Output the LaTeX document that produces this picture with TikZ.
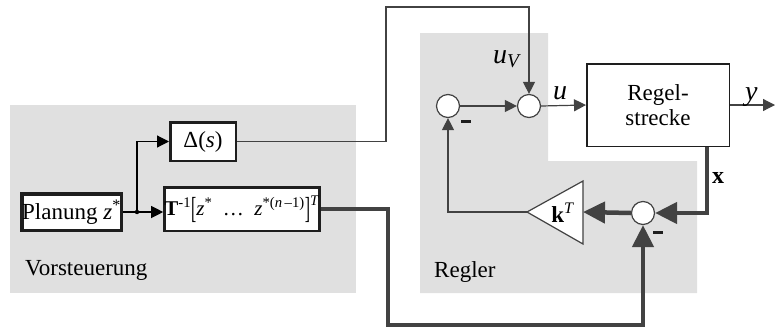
\documentclass[tikz,border=0pt]{standalone}
\usepackage{fontspec}
\usepackage{graphicx}
\setmainfont{Liberation Serif}
\usetikzlibrary{arrows.meta,calc}
\definecolor{bggray}{RGB}{224,224,224}
\definecolor{ln}{RGB}{66,66,66}
\definecolor{bd}{RGB}{30,30,30}
\begin{document}
\begin{tikzpicture}[x=1pt,y=-1pt,
  every node/.style={font=\fontsize{23}{25}\selectfont},
  blk/.style={draw=bd,fill=white,inner sep=0pt,anchor=center},
  sumnode/.style={circle,draw=ln,fill=white,line width=1.2pt,minimum size=23pt,inner sep=0pt},
  thinln/.style={draw=ln,line width=1.2pt},
  thinarr/.style={thinln,-{Triangle[length=12pt,width=12pt]}},
  blackarr/.style={draw=black,line width=1.2pt,-{Triangle[length=12pt,width=12pt]}},
  thickln/.style={draw=ln,line width=4.5pt},
  thickarr/.style={thickln,-{Triangle[length=22pt,width=21pt]}},
  lbl/.style={anchor=base west,inner sep=0pt},
  minus/.style={draw=bd,line width=3pt}]
\useasboundingbox (0,0) rectangle (775,327);
% background regions
\fill[bggray] (10,105) rectangle (356,293);
\fill[bggray] (420,33) -- (548,33) -- (548,161) -- (697,161) -- (697,293) -- (420,293) -- cycle;
% blocks
\node[blk,line width=3.5pt,minimum width=99.5pt,minimum height=36.5pt] (plan) at (71.5,212) {Planung \textit{z}\textsuperscript{*}};
\node[blk,line width=2.5pt,minimum width=139.5pt,minimum height=43.5pt] (tbox) at (242,209)
  {\fontsize{21}{21}\selectfont\textbf{T}\textsuperscript{-1}\raisebox{-3pt}{\scalebox{0.75}[1.45]{[}}\textit{z}\textsuperscript{*}\ \ \dots\ \ \textit{z}\textsuperscript{*(\textit{n}\,–1)}\raisebox{-3pt}{\scalebox{0.75}[1.45]{]}}\textsuperscript{\raisebox{2pt}{\textit{T}}}};
\node[blk,line width=2.5pt,minimum width=65.5pt,minimum height=38.5pt] (delta) at (203,141.5) {Δ(\textit{s})};
\node[blk,draw=bd,line width=1.5pt,minimum width=142.5pt,minimum height=82.5pt,align=center] (plant) at (658,105) {Regel-\\strecke};
\node[sumnode] (s1) at (448,106) {};
\node[sumnode] (s2) at (529,106) {};
\node[sumnode] (s3) at (643,213) {};
% gain triangle
\coordinate (kapex) at (527,212);
\coordinate (kright) at (583,212);
\draw[fill=white,draw=ln,line width=1.2pt] (kapex) -- (583,181) -- (583,244) -- cycle;
\node (k) at (563,213) {\textbf{k}\textsuperscript{\textit{T}}};
% helper coordinates
\coordinate (j) at (137,212);
\coordinate (tl) at (386,7);
\coordinate (bl) at (388,325);
\coordinate (xs) at (707,147);
\coordinate (yend) at (775,105);
% Vorsteuerung connections
\draw[draw=black,line width=1.2pt] (plan.east |- j) -- (j);
\draw[blackarr] (j) -- (tbox.west |- j);
\draw[blackarr] (j) |- (delta.west);
\fill[black] (j) circle (2.2pt);
\draw[thinln,-{Triangle[length=12pt,width=12pt]}] (delta.east) -| (tl) -| (s2.north);
% Regler connections
\draw[thinarr] (s1.east) -- (s2.west);
\draw[thinarr] (s2.east) -- (plant.west);
\draw[thinarr] (plant.east) -- (yend);
\draw[thickarr] (xs) |- (s3.east);
\draw[thickarr] (s3.west) -- (kright);
\draw[thinarr] (kapex) -| (s1.south);
\draw[thickarr] (tbox.east) -| (bl) -| (s3.south);
% minus signs
\draw[minus] (461,121) -- (471,121);
\draw[minus] (653,232) -- (663,232);
% labels
\node[lbl,font=\fontsize{28}{28}\selectfont] (uv) at (493,63) {\textit{u}\textsubscript{\textit{V}}};
\node[lbl,font=\fontsize{28}{28}\selectfont] (ul) at (553,99) {\textit{u}};
\node[lbl,font=\fontsize{28}{28}\selectfont] (yl) at (745,100) {\textit{y}};
\node[lbl,font=\fontsize{24}{24}\selectfont\bfseries] (xl) at (712,183) {x};
\node[lbl] (vl) at (25,275) {Vorsteuerung};
\node[lbl] (rl) at (434,277) {Regler};
\end{tikzpicture}
\end{document}
